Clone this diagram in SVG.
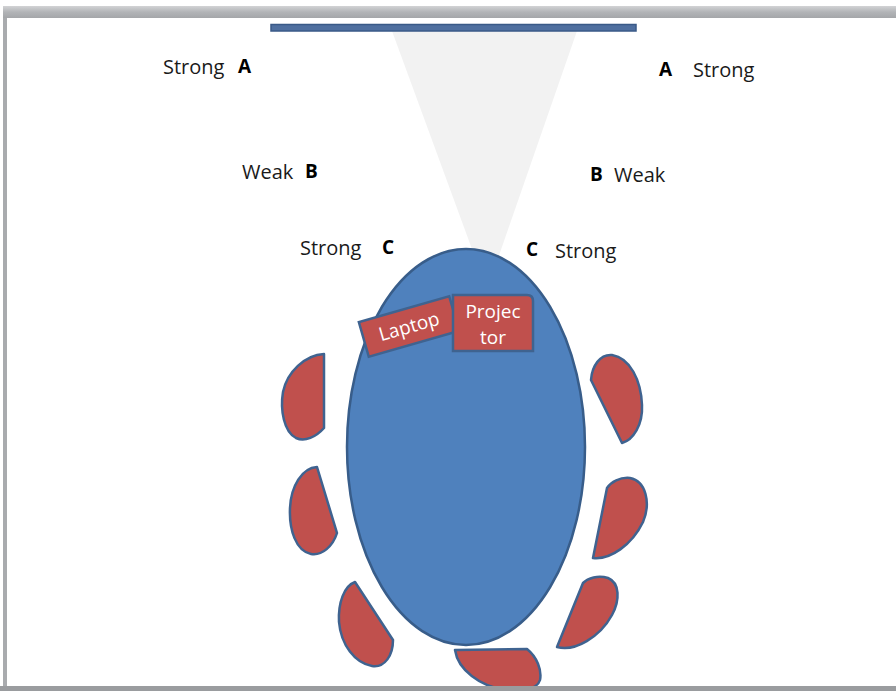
<svg xmlns="http://www.w3.org/2000/svg" width="896" height="691" viewBox="0 0 896 691">
<defs>
<linearGradient id="topbar" x1="0" y1="0" x2="0" y2="1">
<stop offset="0" stop-color="#d2d3d5"/>
<stop offset="0.5" stop-color="#b2b4b7"/>
<stop offset="1" stop-color="#a4a6a9"/>
</linearGradient>
<style>
.lbl{font-family:"Open Sans","Noto Sans",sans-serif;font-size:20px;fill:#1a1a1a}
.let{font-family:"Open Sans","Noto Sans",sans-serif;font-size:19px;font-weight:bold;fill:#000}
.chair{fill:#c0504d;stroke:#3f6390;stroke-width:2.5;stroke-linejoin:round}
.box{fill:#c0504d;stroke:#3f6390;stroke-width:2.5}
.wt{font-family:"Open Sans","Noto Sans",sans-serif;font-size:19px;fill:#fff;text-anchor:middle}
</style>
</defs>
<rect x="0" y="0" width="896" height="691" fill="#ffffff"/>
<!-- frame -->
<rect x="3" y="6" width="893" height="12" fill="url(#topbar)"/>
<rect x="3" y="18" width="4" height="673" fill="#a9abae"/>

<!-- projection cone -->
<g id="cone"><polygon points="392,31 577,31 487,290" fill="#f2f2f2"/></g>
<!-- screen -->
<g id="screen"><rect x="271" y="24.5" width="365" height="6.5" fill="#4f6f9f" stroke="#3a5a88" stroke-width="1.5"/></g>

<!-- table -->
<g id="table"><ellipse cx="466" cy="447" rx="119" ry="198" fill="#4f81bd" stroke="#385d8a" stroke-width="2.5"/></g>

<!-- laptop -->
<g id="laptop" transform="translate(409,326.5) rotate(-16)">
<rect x="-47" y="-18" width="94" height="36" class="box"/>
<text x="0" y="6.5" class="wt">Laptop</text>
</g>
<!-- projector -->
<g id="projector">
<path d="M453,295 H527 Q533,295 533,301 V351 H453 Z" class="box"/>
<text x="493" y="318" class="wt">Projec</text>
<text x="493" y="344" class="wt">tor</text>
</g>

<!-- chairs -->
<g id="chair1"><path class="chair" d="M324,354 L324,428 C316,437 305,442 296,438 C284,432 280,410 283,392 C287,372 305,355 324,354 Z"/></g>
<g id="chair2"><path class="chair" d="M317,467 L337,533 C333,546 322,556 311,554 C296,551 289,530 290,508 C291,486 302,468 317,467 Z"/></g>
<g id="chair3"><path class="chair" d="M355,582 L393,640 C393,655 385,668 372,666 C355,663 341,645 339,622 C338,603 344,586 355,582 Z"/></g>
<g id="chair4"><path class="chair" d="M455,650 L527,649 C537,657 542,670 540,680 C537,690 520,692 505,690 C480,686 458,670 455,650 Z"/></g>
<g id="chair5"><path class="chair" d="M591,380 L622,443 C633,440 643,425 642,405 C641,380 630,358 612,355 C600,354 592,366 591,380 Z"/></g>
<g id="chair6"><path class="chair" d="M607,488 L593,558 C610,560 632,545 643,522 C651,503 646,481 630,478 C620,477 611,482 607,488 Z"/></g>
<g id="chair7"><path class="chair" d="M583,583 L557,647 C575,652 600,637 612,615 C620,600 620,583 608,578 C598,575 588,578 583,583 Z"/></g>
<rect x="0" y="686" width="896" height="5" fill="#9a9c9f"/>

<!-- labels -->
<g id="labels">
<text x="163" y="74" class="lbl">Strong</text>
<text x="238" y="73" class="let">A</text>
<text x="659" y="76" class="let">A</text>
<text x="693" y="77" class="lbl">Strong</text>
<text x="242" y="179" class="lbl">Weak</text>
<text x="305" y="178" class="let">B</text>
<text x="590" y="181" class="let">B</text>
<text x="614" y="182" class="lbl">Weak</text>
<text x="300" y="255" class="lbl">Strong</text>
<text x="382" y="254" class="let">C</text>
<text x="526" y="256" class="let">C</text>
<text x="555" y="258" class="lbl">Strong</text>
</g>
</svg>
